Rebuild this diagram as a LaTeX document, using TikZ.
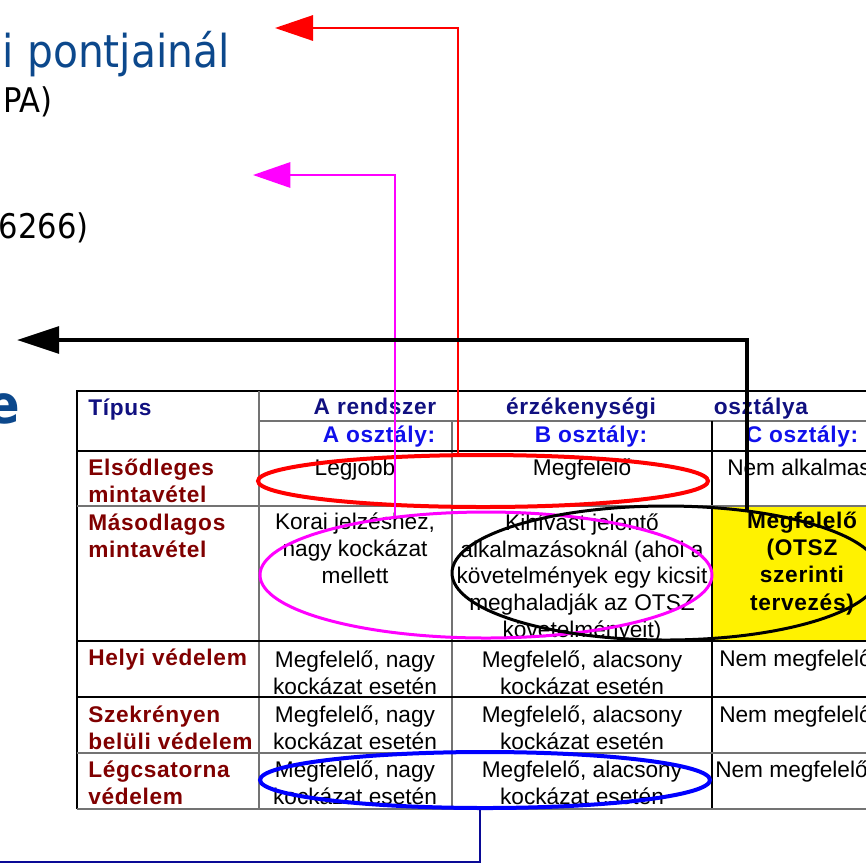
\documentclass[tikz,border=0pt]{standalone}
\usepackage{fontspec}
\setmainfont{Liberation Sans}
\newfontfamily\titlefont{DejaVu Sans Condensed}
\newfontfamily\tabbold{Liberation Sans Bold}[LetterSpace=3]
\usetikzlibrary{arrows.meta,shapes.geometric}

\definecolor{titleblue}{RGB}{12,72,140}
\definecolor{headnavy}{RGB}{16,16,128}
\definecolor{classblue}{RGB}{16,16,235}
\definecolor{rowred}{RGB}{128,0,0}
\definecolor{connavy}{RGB}{10,10,150}
\definecolor{ringmag}{RGB}{255,0,255}

\tikzset{
  every node/.style={inner sep=0pt},
  gridk/.style={line width=0.9pt, black},
  gridg/.style={line width=0.9pt, black!55},
  headtxt/.style={anchor=base, text=headnavy, font=\tabbold\fontsize{17}{20}\selectfont},
  classtxt/.style={anchor=base, text=classblue, font=\tabbold\fontsize{17}{20}\selectfont},
  typecell/.style={anchor=base west, align=left, text=rowred, font=\tabbold\fontsize{17}{20}\selectfont},
  datacell/.style={anchor=base, align=center, font=\fontsize{17}{20}\selectfont},
  ring/.style={draw, ellipse, fill=none, inner sep=0pt},
}

\begin{document}
\begin{tikzpicture}[x=0.75pt,y=-0.75pt]
  \useasboundingbox (0,0) rectangle (866,865);
  \clip (0,0) rectangle (866,865);

  % slide text behind the table
  \node[anchor=base east, text=titleblue, font=\titlefont\fontsize{34}{40}\selectfont] (ttla) at (230,67) {i pontjainál};
  \node[anchor=base east, font=\titlefont\fontsize{25.5}{30}\selectfont] (ttlb) at (53,112) {PA)};
  \node[anchor=base east, font=\titlefont\fontsize{25.5}{30}\selectfont] (ttlc) at (89,238) {6266)};
  \node[anchor=base east, text=titleblue, font=\titlefont\bfseries\fontsize{40}{44}\selectfont] (ttld) at (20,423) {e};

  % table (multi-line cells sit on the baseline of their last line)
  \fill[yellow] (712,506) rectangle (890,641);
  \draw[gridk] (77,809) -- (77,391) -- (890,391);
  \draw[gridg] (259,391) -- (259,809);
  \draw[gridg] (259,421) -- (890,421);
  \draw[gridg] (452,421) -- (452,809);
  \draw[gridk] (712,421) -- (712,809);
  \foreach \y/\s in {451/gridk,506/gridg,641/gridk,697/gridk,753/gridg,809/gridg}
    \draw[\s] (77,\y) -- (890,\y);

  \node[headtxt, anchor=base west] (tipus) at (88,415) {Típus};
  \node[headtxt] (hdrA) at (375,414) {A rendszer};
  \node[headtxt] (hdrB) at (581,414) {érzékenységi};
  \node[headtxt] (hdrC) at (761,414) {osztálya};
  \node[classtxt] (clsA) at (379,442) {A osztály:};
  \node[classtxt] (clsB) at (591,442) {B osztály:};
  \node[classtxt] (clsC) at (802,442) {C osztály:};

  \node[typecell] (elso) at (88,502) {Elsődleges\\mintavétel};
  \node[typecell] (maso) at (88,557) {Másodlagos\\mintavétel};
  \node[typecell] (helyi) at (88,665) {Helyi védelem};
  \node[typecell] (szekr) at (88,749) {Szekrényen\\belüli védelem};
  \node[typecell] (legcs) at (88,804) {Légcsatorna\\védelem};

  \node[datacell] (elsoA) at (355,475) {Legjobb};
  \node[datacell] (elsoB) at (582,475) {Megfelelő};
  \node[datacell, anchor=base west] (elsoC) at (727,475) {Nem alkalmas};

  \node[datacell] (masoA) at (355,583) {Korai jelzéshez,\\nagy kockázat\\mellett};
  \node[datacell] (masoB) at (582,637) {Kihívást jelentő\\alkalmazásoknál (ahol a\\követelmények egy kicsit\\meghaladják az OTSZ\\követelményeit)};
  \node[datacell, font=\tabbold\fontsize{17}{20.3}\selectfont] (masoC) at (802,610) {Megfelelő\\(OTSZ\\szerinti\\tervezés)};

  \node[datacell] (helyiA) at (355,694) {Megfelelő, nagy\\kockázat esetén};
  \node[datacell] (helyiB) at (582,694) {Megfelelő, alacsony\\kockázat esetén};
  \node[datacell, anchor=base west] (helyiC) at (719,666) {Nem megfelelő};

  \node[datacell] (szekrA) at (355,749) {Megfelelő, nagy\\kockázat esetén};
  \node[datacell] (szekrB) at (582,749) {Megfelelő, alacsony\\kockázat esetén};
  \node[datacell, anchor=base west] (szekrC) at (719,722) {Nem megfelelő};

  \node[datacell] (legcsA) at (355,804) {Megfelelő, nagy\\kockázat esetén};
  \node[datacell] (legcsB) at (582,804) {Megfelelő, alacsony\\kockázat esetén};
  \node[datacell, anchor=base west] (legcsC) at (715,777) {Nem megfelelő};

  % rings and their pointers
  \node[ring, draw=red, line width=3pt, minimum width=337.5pt, minimum height=39pt] (ellR) at (483,481) {};
  \node[ring, draw=ringmag, line width=2.25pt, minimum width=339pt, minimum height=94.5pt] (ellM) at (486,575) {};
  \node[ring, draw=black, line width=2.25pt, minimum width=321pt, minimum height=100.5pt] (ellK) at (666,573) {};
  \node[ring, draw=blue, line width=3pt, minimum width=337.5pt, minimum height=42pt] (ellB) at (485,780) {};

  \coordinate (redtip) at (275,28);
  \coordinate (magtip) at (253,175);
  \coordinate (blktip) at (17,340);
  \coordinate (bluend) at (-5,862);

  \draw[red, line width=1.5pt, -{Triangle[length=28.5pt,width=19pt]}] (ellR.132) |- (redtip);
  \draw[ringmag, line width=1.5pt, -{Triangle[length=28pt,width=19pt]}] (ellM.147) |- (magtip);
  \draw[black, line width=3pt, -{Triangle[length=31.5pt,width=20pt]}] (ellK.38) |- (blktip);
  \draw[connavy, line width=1.5pt] (ellB.260) |- (bluend);
\end{tikzpicture}
\end{document}
